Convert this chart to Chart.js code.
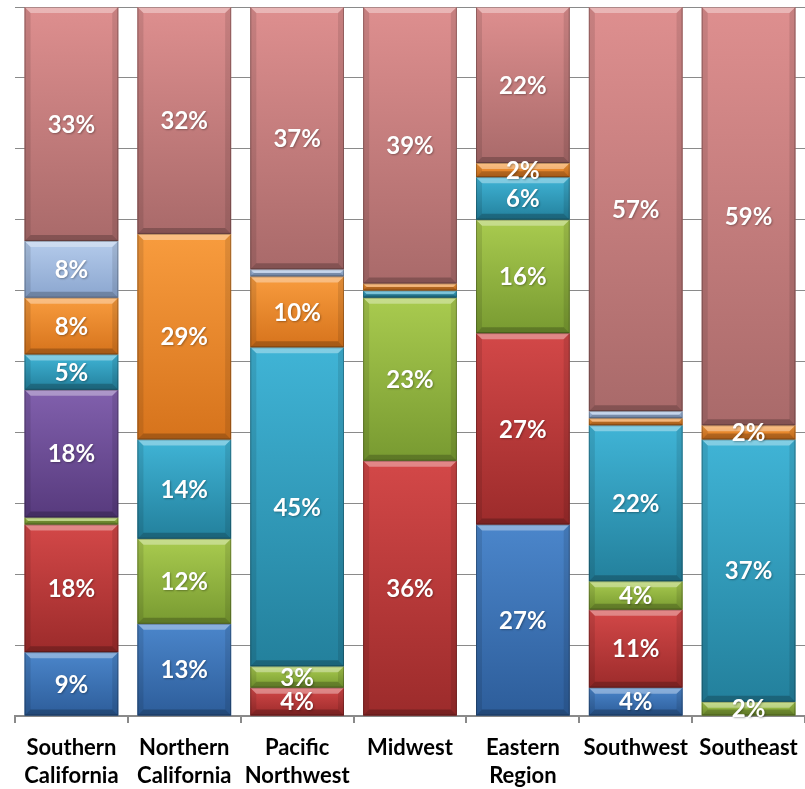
<!DOCTYPE html>
<html>
<head>
<meta charset="utf-8">
<script src="https://cdn.jsdelivr.net/npm/chart.js@4.4.1/dist/chart.umd.min.js"></script>
<style>
  html, body { margin: 0; padding: 0; background: #fff; }
  #wrap { width: 805px; height: 789px; }
</style>
</head>
<body>
<div id="wrap"><canvas id="regionChart"></canvas></div>
<script>
// categories (x axis)
const regions = [
  ['Southern', 'California'],
  ['Northern', 'California'],
  ['Pacific', 'Northwest'],
  'Midwest',
  ['Eastern', 'Region'],
  'Southwest',
  'Southeast'
];

// series values in percent, bottom to top
const blueVals      = [9, 13, 0, 0, 27, 4, 0];
const redVals       = [18, 0, 4, 36, 27, 11, 0];
const greenVals     = [1, 12, 3, 23, 16, 4, 2];
const purpleVals    = [18, 0, 0, 0, 0, 0, 0];
const cyanVals      = [5, 14, 45, 1, 6, 22, 37];
const orangeVals    = [8, 29, 10, 1, 2, 1, 2];
const lightBlueVals = [8, 0, 1, 0, 0, 1, 0];
const pinkVals      = [33, 32, 37, 39, 22, 57, 59];

// colours: [top, bottom] of each segment gradient
const seriesColors = [
  ['#4b86cb', '#2d5d9a'],
  ['#d34848', '#9c2b2b'],
  ['#a9cb4f', '#789a31'],
  ['#8160ad', '#573a7d'],
  ['#40b4d6', '#23809c'],
  ['#f89c3e', '#d6731c'],
  ['#b4cbeb', '#8ba6cf'],
  ['#de8f8f', '#a96a6a']
];

const seriesVals = [blueVals, redVals, greenVals, purpleVals, cyanVals, orangeVals, lightBlueVals, pinkVals];

const datasets = seriesVals.map(function (vals, i) {
  return {
    label: 's' + i,
    data: vals,
    backgroundColor: seriesColors[i][1],
    borderWidth: 0,
    barPercentage: 0.83,
    categoryPercentage: 1.0
  };
});

// Excel-ish bevel look painted over each bar element
const bevelPlugin = {
  id: 'bevel',
  afterDatasetsDraw(chart) {
    const c = chart.ctx;
    chart.data.datasets.forEach(function (ds, di) {
      const meta = chart.getDatasetMeta(di);
      meta.data.forEach(function (bar, i) {
        if (!ds.data[i]) return;
        const left = bar.x - bar.width / 2;
        const w = bar.width;
        const top = Math.min(bar.y, bar.base);
        const h = Math.abs(bar.base - bar.y);
        if (h < 0.5) return;
        const b = Math.min(6, h / 2);
        c.save();
        const g = c.createLinearGradient(0, top, 0, top + h);
        g.addColorStop(0, seriesColors[di][0]);
        g.addColorStop(1, seriesColors[di][1]);
        c.fillStyle = g;
        c.fillRect(left, top, w, h);
        // top highlight
        c.fillStyle = 'rgba(255,255,255,0.35)';
        c.beginPath();
        c.moveTo(left, top); c.lineTo(left + w, top);
        c.lineTo(left + w - b, top + b); c.lineTo(left + b, top + b);
        c.closePath(); c.fill();
        // bottom shade
        c.fillStyle = 'rgba(0,0,0,0.22)';
        c.beginPath();
        c.moveTo(left, top + h); c.lineTo(left + w, top + h);
        c.lineTo(left + w - b, top + h - b); c.lineTo(left + b, top + h - b);
        c.closePath(); c.fill();
        // sides
        c.fillStyle = 'rgba(0,0,0,0.10)';
        c.beginPath();
        c.moveTo(left, top); c.lineTo(left + b, top + b);
        c.lineTo(left + b, top + h - b); c.lineTo(left, top + h);
        c.closePath(); c.fill();
        c.beginPath();
        c.moveTo(left + w, top); c.lineTo(left + w - b, top + b);
        c.lineTo(left + w - b, top + h - b); c.lineTo(left + w, top + h);
        c.closePath(); c.fill();
        c.strokeStyle = 'rgba(0,0,0,0.25)';
        c.lineWidth = 1;
        c.strokeRect(left + 0.5, top + 0.5, w - 1, h - 1);
        c.restore();
      });
    });
    // value labels on top of everything
    c.save();
    c.font = 'bold 24px Lato, "Open Sans", sans-serif';
    c.fillStyle = '#ffffff';
    c.textAlign = 'center';
    c.textBaseline = 'middle';
    c.shadowColor = 'rgba(0,0,0,0.3)';
    c.shadowBlur = 2;
    c.shadowOffsetX = 1;
    c.shadowOffsetY = 1;
    chart.data.datasets.forEach(function (ds, di) {
      const meta = chart.getDatasetMeta(di);
      meta.data.forEach(function (bar, i) {
        const v = ds.data[i];
        if (v < 2) return;
        c.fillText(Math.round(v) + '%', bar.x, (bar.y + bar.base) / 2 + 1);
      });
    });
    c.restore();
  }
};

new Chart(document.getElementById('regionChart'), {
  type: 'bar',
  data: { labels: regions, datasets: datasets },
  options: {
    responsive: true,
    maintainAspectRatio: false,
    animation: false,
    layout: { padding: { left: 15, right: 0, top: 7, bottom: 0 } },
    plugins: { legend: { display: false }, tooltip: { enabled: false } },
    scales: {
      x: {
        stacked: true,
        afterFit: function (scale) {
          scale.height = 73;
          scale.paddingLeft = 0;
          scale.paddingRight = 0;
        },
        grid: { offset: true, drawOnChartArea: false, tickLength: 7, color: '#8a8a8a', lineWidth: 2 },
        border: { color: '#8a8a8a', width: 2 },
        ticks: {
          color: '#000',
          font: { family: 'Lato, "Open Sans", sans-serif', size: 22, weight: 'bold', lineHeight: 1.27 },
          padding: 11,
          maxRotation: 0,
          autoSkip: false
        }
      },
      y: {
        stacked: true,
        min: 0,
        max: 100,
        afterFit: function (scale) { scale.width = 0; },
        ticks: { display: false, stepSize: 10 },
        grid: { color: '#8a8a8a', lineWidth: 1, drawTicks: false },
        border: { display: false }
      }
    }
  },
  plugins: [bevelPlugin]
});
</script>
</body>
</html>
